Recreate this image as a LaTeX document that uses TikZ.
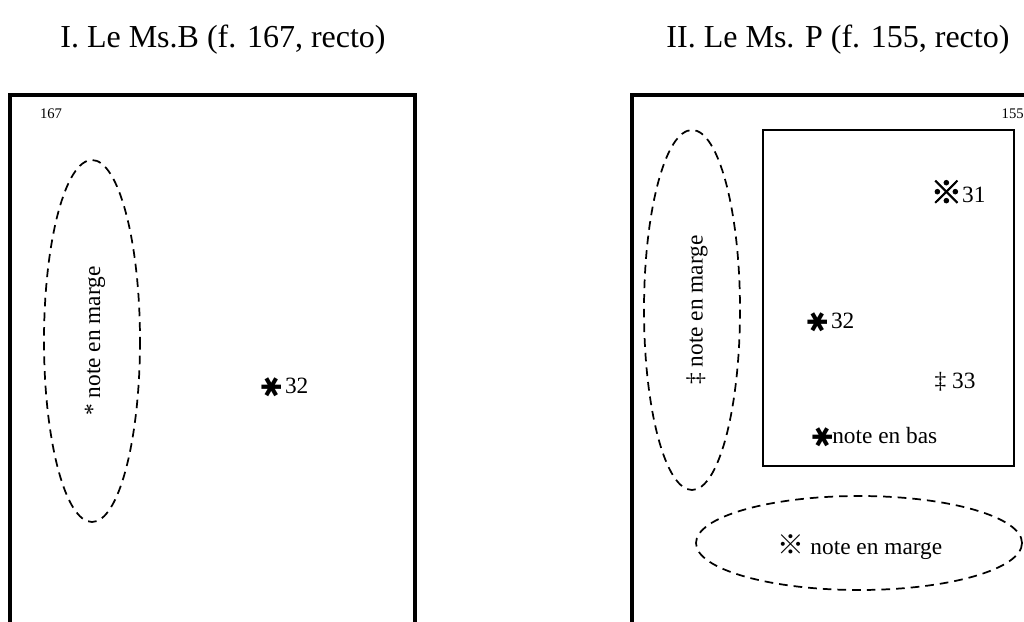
\documentclass[tikz,border=0pt]{standalone}
\usepackage{fontspec}
\setmainfont{Liberation Serif}
\newfontfamily\cjkfont{Noto Sans CJK JP}
\newfontfamily\cjkbold[FakeBold=2.5]{Noto Sans CJK JP}
\newfontfamily\symfont{DejaVu Sans}
\usetikzlibrary{positioning}
\newcommand{\heavyast}{\raisebox{-0.12em}{\rotatebox[origin=c]{90}{\scalebox{1.15}{\symfont\bfseries ✱}}}}
\newcommand{\refmark}{\raisebox{-0.05em}{\scalebox{1.35}{\cjkbold ※}}}
\newcommand{\lightref}{\scalebox{1.15}{\cjkfont ※}}
\tikzset{
  % Frame styles
  pageframe/.style={line width=2.3pt},
  textframe/.style={draw, line width=1.5pt, inner sep=0pt},
  margeoval/.style={line width=1.3pt, dash pattern=on 6.5pt off 4.5pt},
  % Label styles
  titlelabel/.style={font=\fontsize{24}{28}\selectfont, inner sep=0pt},
  notelabel/.style={font=\fontsize{17.5}{20}\selectfont, inner sep=0pt},
  folionum/.style={font=\fontsize{11}{13}\selectfont, inner sep=0pt}
}

\begin{document}
\begin{tikzpicture}[x=0.75pt, y=-0.75pt]
  \useasboundingbox (0,0) rectangle (1024,621);

  % Titles
  \node[titlelabel] (titreB) at (223,40) {I. Le Ms.B (f. 167, recto)};
  \node[titlelabel] (titreP) at (838,40) {II. Le Ms. P (f. 155, recto)};

  % Ms. B page
  \draw[pageframe] (10,630) -- (10,95) -- (415,95) -- (415,630);
  \node[folionum] (folB) at (51,114) {167};
  \draw[margeoval] (92,341) ellipse (48 and 181);
  \node[notelabel, rotate=90] (margeB) at (95,341) {* note en marge};
  \node[notelabel] (appelB) at (285,387) {\heavyast\,32};

  % Ms. P page
  \draw[pageframe] (632,630) -- (632,95) -- (1040,95);
  \node[folionum, anchor=east] (folP) at (1024,114) {155};
  \node[textframe, minimum width=188pt, minimum height=252pt] (corps) at (888.5,298) {};
  \draw[margeoval] (692,310) ellipse (48 and 180);
  \node[notelabel, rotate=90] (margeP) at (697,310) {‡ note en marge};
  \node[notelabel] (appel31) at (958,192) {\refmark31};
  \node[notelabel] (appel32) at (831,322) {\heavyast\,32};
  \node[notelabel] (appel33) at (955,382) {‡ 33};
  \node[notelabel] (noteBas) at (875,437) {\heavyast note en bas};
  \draw[margeoval] (859,543) ellipse (163 and 47);
  \node[notelabel] (margeRef) at (860,547) {\lightref\ note en marge};
\end{tikzpicture}
\end{document}
